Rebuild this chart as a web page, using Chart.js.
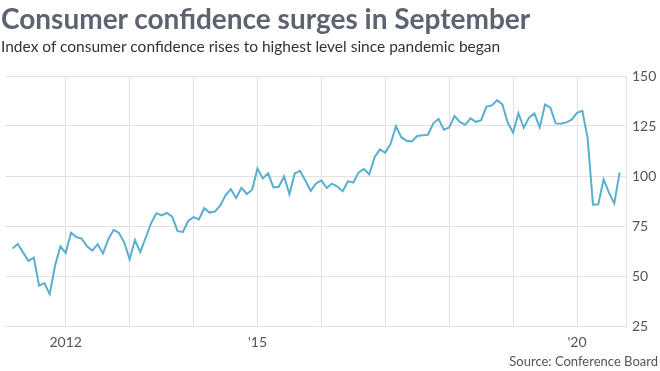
<!DOCTYPE html>
<html>
<head>
<meta charset="utf-8">
<script src="https://cdn.jsdelivr.net/npm/chart.js@4.4.0/dist/chart.umd.min.js"></script>
<style>
  html, body { margin:0; padding:0; background:#fff; }
  #wrap { position:relative; width:660px; height:371px; overflow:hidden; font-family: Lato, "Open Sans", sans-serif; }
  #title { position:absolute; left:1px; top:1px; font-size:28px; font-weight:700; color:#5d6371; white-space:nowrap; }
  #subtitle { position:absolute; left:1px; top:37px; font-size:15.5px; color:#333; white-space:nowrap; }
  #source { position:absolute; right:2px; top:353px; font-size:13px; color:#555; white-space:nowrap; }
  canvas { position:absolute; left:0; top:0; }
</style>
</head>
<body>
<div id="wrap">
  <canvas id="c" width="660" height="371"></canvas>
  <div id="title">Consumer confidence surges in September</div>
  <div id="subtitle">Index of consumer confidence rises to highest level since pandemic began</div>
  <div id="source">Source: Conference Board</div>
</div>
<script>
// Months are indexed from January 2012 = 0; data begin March 2011 (-10)
const startMonth = -10;
const confidence = [
  63.8, 66.0, 61.7, 57.6, 59.2, 45.2, 46.4, 40.9, 55.2, 64.8,
  61.5, 71.6, 69.5, 68.7, 64.9, 62.7, 65.9, 61.3, 68.4, 73.1, 71.5, 66.7,
  58.4, 68.0, 61.9, 69.0, 76.2, 81.4, 80.3, 81.5, 79.7, 72.4, 72.0, 77.5,
  79.4, 78.3, 83.9, 81.7, 82.2, 85.2, 90.3, 93.4, 89.0, 94.1, 91.0, 93.1,
  103.8, 98.8, 101.4, 94.3, 94.6, 99.8, 91.0, 101.3, 102.6, 97.6, 92.6, 96.3,
  97.8, 94.0, 96.2, 94.7, 92.4, 97.4, 96.7, 101.8, 103.5, 100.8, 109.4, 113.3,
  111.6, 116.1, 124.9, 119.4, 117.6, 117.3, 120.0, 120.4, 120.6, 126.2, 128.6, 123.1,
  124.3, 130.0, 127.0, 125.6, 128.8, 127.1, 127.9, 134.7, 135.3, 137.9, 135.7, 126.6,
  121.7, 131.4, 124.1, 129.2, 131.3, 124.3, 135.7, 134.2, 126.3, 126.1, 126.8, 128.2,
  131.6, 132.6, 118.8, 85.7, 85.9, 98.3, 91.7, 86.3, 101.8
];
const yearTickMonths = [0, 12, 24, 36, 48, 60, 72, 84, 96];
const yearTickLabels = ['2012', '', '', "'15", '', '', '', '', "'20"];
const yTicks = [25, 50, 75, 100, 125, 150];

const points = confidence.map((v, i) => ({ x: startMonth + i, y: v }));

new Chart(document.getElementById('c'), {
  type: 'line',
  data: { datasets: [{
    data: points,
    borderColor: '#5aafcf',
    borderWidth: 2,
    pointRadius: 0,
    tension: 0,
    fill: false
  }]},
  options: {
    responsive: false,
    devicePixelRatio: 1,
    animation: false,
    layout: { padding: { left: 5, top: 76, right: 0, bottom: 0 } },
    plugins: { legend: { display: false }, tooltip: { enabled: false } },
    scales: {
      x: {
        type: 'linear',
        min: -11.4,
        max: 105.2,
        afterBuildTicks: (s) => { s.ticks = yearTickMonths.map(v => ({ value: v })); },
        afterFit: (s) => { s.height = 45; },
        grid: { color: '#e2e2e2', lineWidth: 1, drawTicks: false },
        border: { display: false },
        ticks: {
          autoSkip: false, maxRotation: 0, padding: 8,
          color: '#555', font: { family: 'Lato', size: 14 },
          callback: (v) => { const i = yearTickMonths.indexOf(v); return i >= 0 ? yearTickLabels[i] : ''; }
        }
      },
      y: {
        position: 'right',
        min: 25, max: 150,
        afterBuildTicks: (s) => { s.ticks = yTicks.map(v => ({ value: v })); },
        afterFit: (s) => { s.width = 34; },
        grid: { color: '#e2e2e2', lineWidth: 1, drawTicks: false },
        border: { display: true, color: '#e2e2e2' },
        ticks: { padding: 6, color: '#555', font: { family: 'Lato', size: 14 } }
      }
    }
  }
});
</script>
</body>
</html>
